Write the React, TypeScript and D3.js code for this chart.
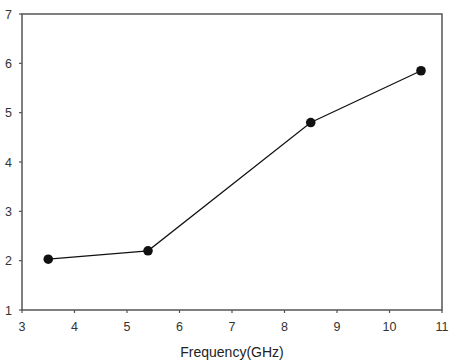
import React from "react";
import * as d3 from "d3";

const freq = [3.5, 5.4, 8.5, 10.6];
const values = [2.03, 2.2, 4.8, 5.85];
const xTicks = [3, 4, 5, 6, 7, 8, 9, 10, 11];
const yTicks = [1, 2, 3, 4, 5, 6, 7];
const xLabel = "Frequency(GHz)";

export default function App() {
  const W = 466, H = 362;
  const x = d3.scaleLinear().domain([3, 11]).range([22, 442]);
  const y = d3.scaleLinear().domain([1, 7]).range([310, 14]);
  const pts = freq.map((f, i) => [x(f), y(values[i])] as [number, number]);
  const line = d3.line()(pts) || "";
  const axisColor = "#555";
  const font = "Liberation Sans, Arial, sans-serif";
  return (
    <svg width={W} height={H} style={{ position: "absolute", left: 0, top: 0, background: "#fff" }}>
      <rect x={22} y={14} width={420} height={296} fill="none" stroke={axisColor} strokeWidth={1.5} />
      {xTicks.map((t) => (
        <g key={"x" + t}>
          <line x1={x(t)} x2={x(t)} y1={310} y2={313} stroke={axisColor} strokeWidth={1.2} />
          <text x={x(t)} y={331} textAnchor="middle" fontSize={12.5} fontFamily={font} fill="#333">{t}</text>
        </g>
      ))}
      {yTicks.map((t) => (
        <g key={"y" + t}>
          <line x1={19} x2={22} y1={y(t)} y2={y(t)} stroke={axisColor} strokeWidth={1.2} />
          <text x={12} y={y(t) + 4.5} textAnchor="end" fontSize={12.5} fontFamily={font} fill="#333">{t}</text>
        </g>
      ))}
      <path d={line} fill="none" stroke="#111" strokeWidth={1.2} />
      {pts.map((p, i) => (
        <circle key={i} cx={p[0]} cy={p[1]} r={4.8} fill="#111" />
      ))}
      <text x={232} y={357} textAnchor="middle" fontSize={14} fontFamily={font} fill="#222">{xLabel}</text>
    </svg>
  );
}
